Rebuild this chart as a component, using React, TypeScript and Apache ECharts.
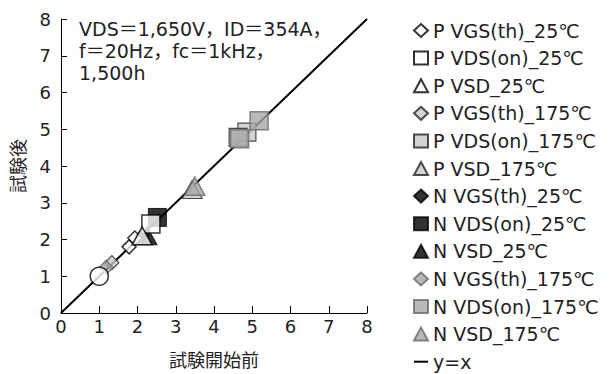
import React, { useEffect, useRef } from "react";
import * as echarts from "echarts";

// ---- texts ----
const xAxisName = "試験開始前";
const yAxisName = "試験後";
const conditionLines = ["VDS＝1,650V，ID＝354A，", "f＝20Hz，fc＝1kHz，", "1,500h"];
const axisMin = 0;
const axisMax = 8;
const axisStep = 1;

// ---- data: [before test, after test] ----
const pVgsTh25 = [[1.78, 1.8], [1.93, 2.04]];
const pVdsOn25 = [[2.35, 2.42]];
const pVsd25 = [[2.12, 2.1]];
const pVgsTh175 = [[1.33, 1.37]];
const pVdsOn175 = [[4.86, 4.92], [4.63, 4.78]];
const pVsd175 = [[3.43, 3.36]];
const nVgsTh25 = [[2.13, 2.1]];
const nVdsOn25 = [[2.52, 2.6]];
const nVsd25 = [[2.25, 2.1]];
const nVgsTh175 = [[1.18, 1.24]];
const nVdsOn175 = [[4.67, 4.74], [5.18, 5.23]];
const nVsd175 = [[3.5, 3.45]];
const referencePoint = [[1.0, 1.0]];
const identityLine = [[0, 0], [8, 8]];

const FONT = "'DejaVu Sans', 'Noto Sans CJK JP', sans-serif";

const styleP25 = { color: "#ffffff", borderColor: "#000000", borderWidth: 1.5 };
const styleN25 = { color: "#000000", borderColor: "#000000", borderWidth: 1 };
const styleP175 = { color: "#c8c8c8", borderColor: "#222222", borderWidth: 1.2 };
const styleN175 = { color: "#a8a8a8", borderColor: "#6a6a6a", borderWidth: 1.5 };

const scatter = (name: string, data: number[][], symbol: string, size: any, itemStyle: any, z: number) => ({
  name,
  type: "scatter",
  data,
  symbol,
  symbolSize: size,
  itemStyle,
  z,
});

export default function App() {
  const ref = useRef<HTMLDivElement>(null);
  useEffect(() => {
    if (!ref.current) return;
    const chart = echarts.init(ref.current, undefined, { renderer: "svg" });
    const legendNames: any[] = [
      "P VGS(th)_25℃",
      "P VDS(on)_25℃",
      "P VSD_25℃",
      "P VGS(th)_175℃",
      "P VDS(on)_175℃",
      "P VSD_175℃",
      "N VGS(th)_25℃",
      "N VDS(on)_25℃",
      "N VSD_25℃",
      "N VGS(th)_175℃",
      "N VDS(on)_175℃",
      "N VSD_175℃",
      { name: "y=x", itemStyle: { opacity: 0 } },
    ];
    const option: any = {
      animation: false,
      backgroundColor: "#ffffff",
      grid: { left: 61, right: 245, top: 19, bottom: 52 },
      xAxis: {
        type: "value",
        min: axisMin,
        max: axisMax,
        interval: axisStep,
        name: xAxisName,
        nameLocation: "middle",
        nameGap: 38,
        nameTextStyle: { fontFamily: FONT, fontSize: 18, color: "#222" },
        axisLine: { lineStyle: { color: "#000", width: 1 } },
        axisTick: { inside: true, length: 7, lineStyle: { color: "#000" } },
        axisLabel: { fontFamily: FONT, fontSize: 18, color: "#222", margin: 4 },
        splitLine: { show: false },
      },
      yAxis: {
        type: "value",
        min: axisMin,
        max: axisMax,
        interval: axisStep,
        name: yAxisName,
        nameLocation: "middle",
        nameRotate: 90,
        nameGap: 34,
        nameTextStyle: { fontFamily: FONT, fontSize: 18, color: "#222" },
        axisLine: { show: true, lineStyle: { color: "#000", width: 1 } },
        axisTick: { show: true, inside: true, length: 6, lineStyle: { color: "#000" } },
        axisLabel: { fontFamily: FONT, fontSize: 18, color: "#222", margin: 10 },
        splitLine: { show: false },
      },
      legend: {
        orient: "vertical",
        left: 413,
        top: 21,
        height: 360,
        padding: 0,
        itemWidth: 14,
        itemHeight: 13,
        itemGap: 8.6,
        data: legendNames,
        textStyle: { fontFamily: FONT, fontSize: 19, color: "#222" },
      },
      graphic: [
        {
          type: "text",
          left: 79,
          top: 18,
          style: {
            text: conditionLines.join("\n"),
            fontFamily: FONT,
            fontSize: 19,
            lineHeight: 22,
            fill: "#222",
          },
        },
      ],
      series: [
        {
          name: "y=x",
          type: "line",
          data: identityLine,
          symbol: "none",
          lineStyle: { color: "#000", width: 2 },
          itemStyle: { color: "#000" },
          z: 1,
        },
        scatter("P VGS(th)_25℃", pVgsTh25, "diamond", 14, styleP25, 3),
        scatter("P VDS(on)_25℃", pVdsOn25, "rect", 18, styleP25, 4),
        scatter("P VSD_25℃", pVsd25, "triangle", [20, 18], styleP25, 4),
        scatter("P VGS(th)_175℃", pVgsTh175, "diamond", 14, styleP175, 2),
        scatter("P VDS(on)_175℃", pVdsOn175, "rect", 18, styleP175, 2),
        scatter("P VSD_175℃", pVsd175, "triangle", [20, 18], styleP175, 2),
        scatter("N VGS(th)_25℃", nVgsTh25, "diamond", 14, styleN25, 2),
        scatter("N VDS(on)_25℃", nVdsOn25, "rect", 18, styleN25, 2),
        scatter("N VSD_25℃", nVsd25, "triangle", [20, 18], styleN25, 2),
        scatter("N VGS(th)_175℃", nVgsTh175, "diamond", 14, styleN175, 3),
        scatter("N VDS(on)_175℃", nVdsOn175, "rect", 18, styleN175, 3),
        scatter("N VSD_175℃", nVsd175, "triangle", [20, 18], styleN175, 3),
        scatter("初期値", referencePoint, "circle", 18, styleP25, 5),
      ],
    };
    chart.setOption(option);
    return () => chart.dispose();
  }, []);
  return (
    <div
      ref={ref}
      style={{ position: "fixed", left: 0, top: 0, width: 612, height: 374, background: "#fff" }}
    />
  );
}
